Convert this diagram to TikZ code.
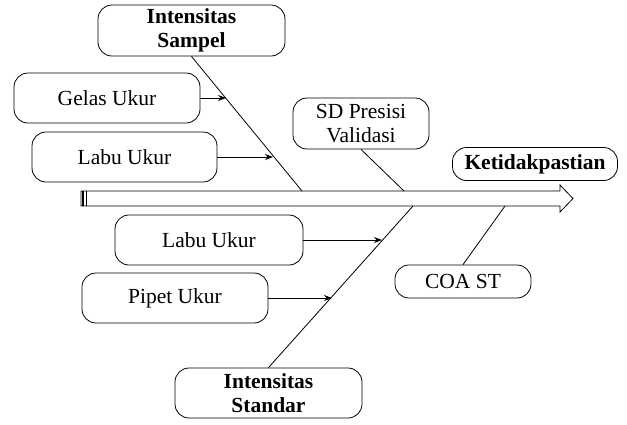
\documentclass[tikz,border=0pt]{standalone}
\usepackage{fontspec}
\setmainfont{Liberation Serif}
\usetikzlibrary{arrows.meta,positioning}

\begin{document}
\begin{tikzpicture}[x=1pt,y=-1pt,
  box/.style={draw,rounded corners=14pt,fill=white,align=center,
    font=\fontsize{21.5}{23.5}\selectfont,inner sep=0pt,line width=0.8pt},
  arr/.style={-{Stealth[length=8pt,width=6pt]},line width=0.8pt},
  bone/.style={line width=0.8pt}
]
\useasboundingbox (0,0) rectangle (627,424);
\draw[line width=0.8pt,fill=white] (81,191) -- (560,191) -- (560,185) -- (573,198.5)
  -- (560,212) -- (560,206) -- (81,206) -- cycle;
\draw[line width=2pt] (83,191) -- (83,206);
\draw[line width=0.6pt] (86,191) -- (86,206);
\coordinate (b1) at (302,191);
\coordinate (s1) at (404,191);
\coordinate (b2) at (413,206);
\coordinate (c1) at (505,206);
\coordinate (g1) at (226,98);
\coordinate (l1) at (273,157);
\coordinate (l2) at (382,240);
\coordinate (p1) at (332,298);
\node[box,minimum width=187pt,minimum height=51pt] (ismp) at (191.5,30.5) {\textbf{Intensitas}\\\textbf{Sampel}};
\node[box,minimum width=186pt,minimum height=50pt] (gelas) at (107,98) {Gelas Ukur};
\node[box,minimum width=185pt,minimum height=50pt] (labua) at (124.5,157) {Labu Ukur};
\node[box,minimum width=136pt,minimum height=51pt] (sdpv) at (361,123.5) {SD Presisi\\Validasi};
\node[box,minimum width=165pt,minimum height=33pt] (ket) at (535,164) {\textbf{Ketidakpastian}};
\node[box,minimum width=188pt,minimum height=50pt] (labub) at (209,240) {Labu Ukur};
\node[box,minimum width=186pt,minimum height=50pt] (pipet) at (175,298) {Pipet Ukur};
\node[box,minimum width=187pt,minimum height=50pt] (istd) at (268.5,393) {\textbf{Intensitas}\\\textbf{Standar}};
\node[box,minimum width=136pt,minimum height=33pt] (coa) at (463,281.5) {COA ST};
\draw[bone] (ismp.south) -- (b1);
\draw[bone] (sdpv.south) -- (s1);
\draw[bone] (istd.north) -- (b2);
\draw[bone] (coa.north) -- (c1);
\draw[arr] (gelas.east) -- (g1);
\draw[arr] (labua.east) -- (l1);
\draw[arr] (labub.east) -- (l2);
\draw[arr] (pipet.east) -- (p1);
\end{tikzpicture}
\end{document}
